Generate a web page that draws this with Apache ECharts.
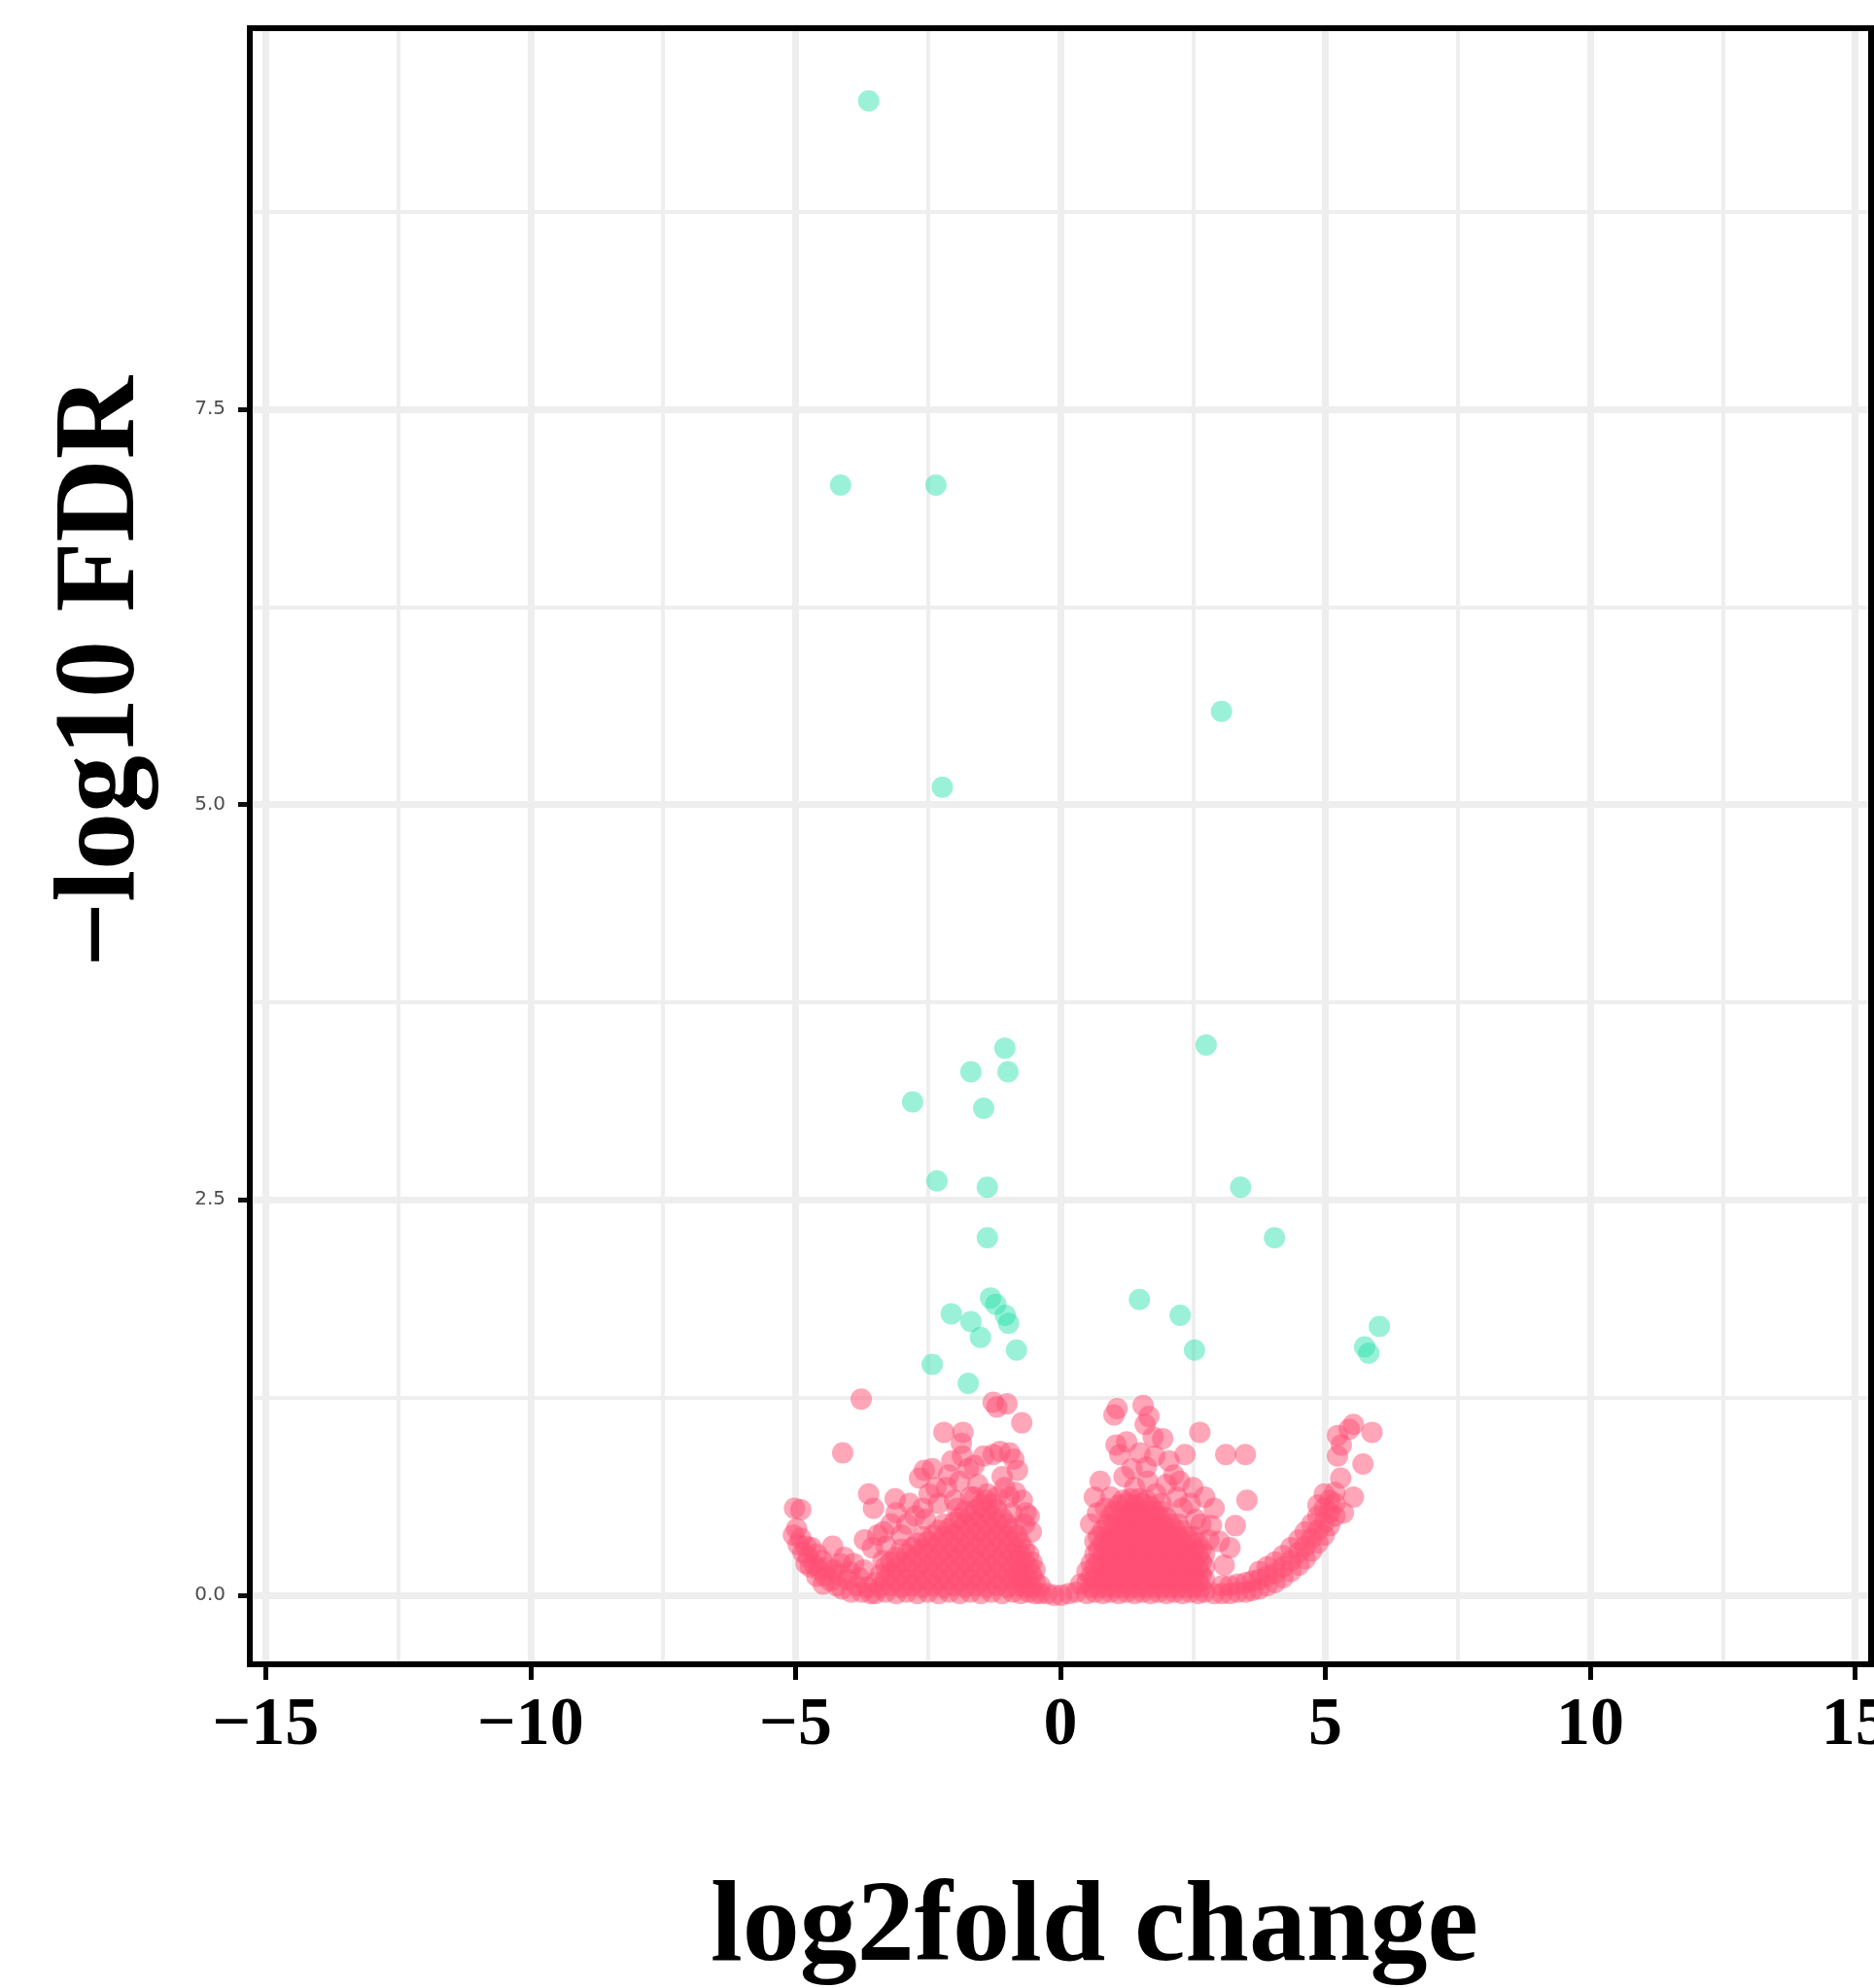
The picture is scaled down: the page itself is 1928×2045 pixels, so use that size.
<!DOCTYPE html>
<html>
<head>
<meta charset="utf-8">
<title>volcano plot</title>
<script src="https://cdn.jsdelivr.net/npm/echarts@6.0.0/dist/echarts.min.js"></script>
<style>
  html, body { margin: 0; padding: 0; background: #fff; }
  #chart { width: 1928px; height: 2045px; }
</style>
</head>
<body>
<div id="chart"></div>
<script>
// significant genes (teal), [log2fc, -log10 FDR]
var sigPoints = [
  [-3.62, 9.45], [-4.15, 7.02], [-2.35, 7.02], [3.04, 5.59], [-2.23, 5.11],
  [-1.05, 3.46], [2.75, 3.48], [-1.69, 3.31], [-0.99, 3.31], [-2.79, 3.12],
  [-1.45, 3.08], [-2.33, 2.62], [-1.38, 2.58], [3.40, 2.58], [-1.38, 2.26],
  [4.04, 2.26], [-1.32, 1.88], [-1.22, 1.84], [-1.04, 1.77], [-0.98, 1.72],
  [-2.06, 1.78], [-1.69, 1.73], [-1.51, 1.63], [-0.83, 1.55], [-2.42, 1.46],
  [-1.74, 1.34], [1.49, 1.87], [2.26, 1.77], [2.53, 1.55], [6.02, 1.70],
  [5.74, 1.57], [5.82, 1.53]
];

// not significant genes (pink), read off patch by patch
var nsLeftWing = [
  [-5.02, 0.55], [-4.90, 0.54], [-5.04, 0.38], [-4.95, 0.32], [-4.86, 0.27],
  [-4.76, 0.24], [-4.70, 0.30], [-4.64, 0.19], [-4.55, 0.16], [-4.50, 0.22],
  [-4.44, 0.12], [-4.34, 0.09], [-4.30, 0.31], [-4.28, 0.16], [-4.22, 0.06],
  [-4.12, 0.04], [-4.08, 0.24], [-4.02, 0.10], [-3.95, 0.02], [-3.90, 0.20],
  [-3.85, 0.06], [-3.75, 0.02], [-3.71, 0.16], [-3.65, 0.05], [-3.58, 0.01],
  [-4.98, 0.42], [-4.90, 0.36], [-4.80, 0.31], [-4.80, 0.20], [-4.72, 0.18],
  [-4.60, 0.26], [-4.60, 0.12], [-4.48, 0.07], [-4.40, 0.18], [-4.20, 0.13],
  [-4.15, 0.20], [-3.98, 0.15], [-3.80, 0.11],
  [-4.11, 0.90], [-3.76, 1.24], [-3.62, 0.64], [-3.53, 0.55]
];

var nsLeftCore = [
  [-3.5, 0.01], [-3.5, 0.08],
  [-3.4, 0.05], [-3.4, 0.13],
  [-3.3, 0.02], [-3.3, 0.10], [-3.3, 0.18],
  [-3.2, 0.06], [-3.2, 0.14], [-3.2, 0.21],
  [-3.1, 0.01], [-3.1, 0.09], [-3.1, 0.17], [-3.1, 0.24],
  [-3.0, 0.05], [-3.0, 0.13], [-3.0, 0.21], [-3.0, 0.29],
  [-2.9, 0.02], [-2.9, 0.10], [-2.9, 0.18], [-2.9, 0.26],
  [-2.8, 0.06], [-2.8, 0.14], [-2.8, 0.22], [-2.8, 0.30],
  [-2.7, 0.01], [-2.7, 0.09], [-2.7, 0.17], [-2.7, 0.25], [-2.7, 0.33],
  [-2.6, 0.05], [-2.6, 0.13], [-2.6, 0.21], [-2.6, 0.29], [-2.6, 0.37],
  [-2.5, 0.02], [-2.5, 0.10], [-2.5, 0.18], [-2.5, 0.26], [-2.5, 0.34],
  [-2.4, 0.06], [-2.4, 0.14], [-2.4, 0.22], [-2.4, 0.30], [-2.4, 0.38],
  [-2.3, 0.01], [-2.3, 0.09], [-2.3, 0.17], [-2.3, 0.25], [-2.3, 0.33], [-2.3, 0.41],
  [-2.2, 0.05], [-2.2, 0.13], [-2.2, 0.21], [-2.2, 0.29], [-2.2, 0.37], [-2.2, 0.45],
  [-2.1, 0.02], [-2.1, 0.10], [-2.1, 0.18], [-2.1, 0.26], [-2.1, 0.34], [-2.1, 0.42],
  [-2.0, 0.06], [-2.0, 0.14], [-2.0, 0.22], [-2.0, 0.30], [-2.0, 0.38], [-2.0, 0.46],
  [-1.9, 0.01], [-1.9, 0.09], [-1.9, 0.17], [-1.9, 0.25], [-1.9, 0.33], [-1.9, 0.41], [-1.9, 0.49],
  [-1.8, 0.05], [-1.8, 0.13], [-1.8, 0.21], [-1.8, 0.29], [-1.8, 0.37], [-1.8, 0.45], [-1.8, 0.53],
  [-1.7, 0.02], [-1.7, 0.10], [-1.7, 0.18], [-1.7, 0.26], [-1.7, 0.34], [-1.7, 0.42], [-1.7, 0.50],
  [-1.6, 0.06], [-1.6, 0.14], [-1.6, 0.22], [-1.6, 0.30], [-1.6, 0.38], [-1.6, 0.46], [-1.6, 0.54],
  [-1.5, 0.01], [-1.5, 0.09], [-1.5, 0.17], [-1.5, 0.25], [-1.5, 0.33], [-1.5, 0.41], [-1.5, 0.49], [-1.5, 0.57],
  [-1.4, 0.05], [-1.4, 0.13], [-1.4, 0.21], [-1.4, 0.29], [-1.4, 0.37], [-1.4, 0.45], [-1.4, 0.53], [-1.4, 0.60],
  [-1.3, 0.02], [-1.3, 0.10], [-1.3, 0.18], [-1.3, 0.26], [-1.3, 0.34], [-1.3, 0.42], [-1.3, 0.50], [-1.3, 0.58],
  [-1.2, 0.06], [-1.2, 0.14], [-1.2, 0.22], [-1.2, 0.30], [-1.2, 0.38], [-1.2, 0.46], [-1.2, 0.54],
  [-1.1, 0.01], [-1.1, 0.09], [-1.1, 0.17], [-1.1, 0.25], [-1.1, 0.33], [-1.1, 0.41], [-1.1, 0.49],
  [-1.0, 0.05], [-1.0, 0.13], [-1.0, 0.21], [-1.0, 0.29], [-1.0, 0.37], [-1.0, 0.45],
  [-0.9, 0.02], [-0.9, 0.10], [-0.9, 0.18], [-0.9, 0.26], [-0.9, 0.34], [-0.9, 0.42],
  [-0.82, 0.06], [-0.82, 0.14], [-0.82, 0.22], [-0.82, 0.30], [-0.82, 0.38],
  [-0.75, 0.01], [-0.75, 0.09], [-0.75, 0.17], [-0.75, 0.25], [-0.75, 0.33],
  [-0.68, 0.05], [-0.68, 0.13], [-0.68, 0.21], [-0.68, 0.29],
  [-0.6, 0.02], [-0.6, 0.10], [-0.6, 0.18], [-0.6, 0.26],
  [-0.54, 0.05], [-0.54, 0.13], [-0.54, 0.21],
  [-0.48, 0.01], [-0.48, 0.09], [-0.48, 0.16],
  [-0.38, 0.01], [-0.38, 0.06],
  [-0.25, 0.01]
];

var nsLeftUpper = [
  [-3.45, 0.38], [-3.34, 0.40], [-3.29, 0.31], [-3.12, 0.61], [-3.10, 0.52],
  [-3.00, 0.38], [-2.90, 0.45], [-2.74, 0.50], [-2.66, 0.74], [-2.60, 0.55],
  [-2.57, 0.79], [-2.48, 0.64], [-2.42, 0.80], [-2.30, 0.58], [-2.20, 1.03],
  [-2.15, 0.68], [-2.11, 0.76], [-2.00, 0.60], [-1.90, 0.72], [-1.84, 1.03],
  [-1.87, 0.96], [-1.85, 0.88], [-1.74, 0.80], [-1.63, 0.82], [-1.62, 0.62],
  [-1.56, 0.70], [-1.38, 0.64], [-1.27, 1.22], [-1.20, 1.19], [-1.27, 0.89],
  [-1.14, 0.91], [-1.05, 0.68], [-1.01, 1.21], [-0.97, 0.62], [-0.96, 0.90],
  [-0.88, 0.86], [-0.81, 0.79], [-0.73, 1.09], [-0.72, 0.60], [-0.65, 0.52],
  [-0.59, 0.50], [-0.55, 0.40], [-0.92, 0.52], [-1.20, 0.62],
  [-3.70, 0.35], [-3.55, 0.30], [-3.35, 0.22], [-3.20, 0.45], [-2.85, 0.58],
  [-2.55, 0.48], [-2.35, 0.68], [-2.05, 0.85], [-1.95, 0.55], [-1.70, 0.62],
  [-1.45, 0.88], [-1.10, 0.75], [-0.85, 0.65], [-0.68, 0.45]
];

var nsCenter = [
  [-0.12, 0.0], [0.02, 0.0], [0.16, 0.01], [0.30, 0.02], [0.38, 0.07]
];

var nsRightCore = [
  [0.5, 0.01], [0.5, 0.08], [0.5, 0.15],
  [0.58, 0.05], [0.58, 0.12], [0.58, 0.20],
  [0.65, 0.02], [0.65, 0.10], [0.65, 0.18], [0.65, 0.26], [0.65, 0.34],
  [0.72, 0.05], [0.72, 0.13], [0.72, 0.21], [0.72, 0.29], [0.72, 0.37],
  [0.8, 0.01], [0.8, 0.09], [0.8, 0.17], [0.8, 0.25], [0.8, 0.33], [0.8, 0.41],
  [0.88, 0.05], [0.88, 0.13], [0.88, 0.21], [0.88, 0.29], [0.88, 0.37], [0.88, 0.45],
  [0.95, 0.02], [0.95, 0.10], [0.95, 0.18], [0.95, 0.26], [0.95, 0.34], [0.95, 0.42], [0.95, 0.50],
  [1.02, 0.05], [1.02, 0.13], [1.02, 0.21], [1.02, 0.29], [1.02, 0.37], [1.02, 0.45], [1.02, 0.53],
  [1.1, 0.01], [1.1, 0.09], [1.1, 0.17], [1.1, 0.25], [1.1, 0.33], [1.1, 0.41], [1.1, 0.49], [1.1, 0.57],
  [1.18, 0.05], [1.18, 0.13], [1.18, 0.21], [1.18, 0.29], [1.18, 0.37], [1.18, 0.45], [1.18, 0.53], [1.18, 0.60],
  [1.25, 0.02], [1.25, 0.10], [1.25, 0.18], [1.25, 0.26], [1.25, 0.34], [1.25, 0.42], [1.25, 0.50], [1.25, 0.58],
  [1.32, 0.05], [1.32, 0.13], [1.32, 0.21], [1.32, 0.29], [1.32, 0.37], [1.32, 0.45], [1.32, 0.53], [1.32, 0.61],
  [1.4, 0.01], [1.4, 0.09], [1.4, 0.17], [1.4, 0.25], [1.4, 0.33], [1.4, 0.41], [1.4, 0.49], [1.4, 0.57],
  [1.48, 0.05], [1.48, 0.13], [1.48, 0.21], [1.48, 0.29], [1.48, 0.37], [1.48, 0.45], [1.48, 0.53], [1.48, 0.61],
  [1.55, 0.02], [1.55, 0.10], [1.55, 0.18], [1.55, 0.26], [1.55, 0.34], [1.55, 0.42], [1.55, 0.50], [1.55, 0.58],
  [1.62, 0.05], [1.62, 0.13], [1.62, 0.21], [1.62, 0.29], [1.62, 0.37], [1.62, 0.45], [1.62, 0.53], [1.62, 0.60],
  [1.7, 0.01], [1.7, 0.09], [1.7, 0.17], [1.7, 0.25], [1.7, 0.33], [1.7, 0.41], [1.7, 0.49], [1.7, 0.56],
  [1.78, 0.05], [1.78, 0.13], [1.78, 0.21], [1.78, 0.29], [1.78, 0.37], [1.78, 0.45], [1.78, 0.53],
  [1.85, 0.02], [1.85, 0.10], [1.85, 0.18], [1.85, 0.26], [1.85, 0.34], [1.85, 0.42], [1.85, 0.50],
  [1.92, 0.05], [1.92, 0.13], [1.92, 0.21], [1.92, 0.29], [1.92, 0.37], [1.92, 0.45], [1.92, 0.53],
  [2.0, 0.01], [2.0, 0.09], [2.0, 0.17], [2.0, 0.25], [2.0, 0.33], [2.0, 0.41], [2.0, 0.49],
  [2.08, 0.05], [2.08, 0.13], [2.08, 0.21], [2.08, 0.29], [2.08, 0.37], [2.08, 0.45],
  [2.15, 0.02], [2.15, 0.10], [2.15, 0.18], [2.15, 0.26], [2.15, 0.34], [2.15, 0.42],
  [2.22, 0.05], [2.22, 0.13], [2.22, 0.21], [2.22, 0.29], [2.22, 0.37], [2.22, 0.45],
  [2.3, 0.01], [2.3, 0.09], [2.3, 0.17], [2.3, 0.25], [2.3, 0.33], [2.3, 0.41],
  [2.38, 0.05], [2.38, 0.13], [2.38, 0.21], [2.38, 0.29], [2.38, 0.37],
  [2.45, 0.02], [2.45, 0.10], [2.45, 0.18], [2.45, 0.26], [2.45, 0.34],
  [2.52, 0.05], [2.52, 0.13], [2.52, 0.21], [2.52, 0.29], [2.52, 0.37],
  [2.6, 0.01], [2.6, 0.09], [2.6, 0.17], [2.6, 0.25], [2.6, 0.33],
  [2.66, 0.05], [2.66, 0.13], [2.66, 0.21], [2.66, 0.29],
  [2.72, 0.02], [2.72, 0.10], [2.72, 0.18], [2.72, 0.26],
  [2.9, 0.01], [3.05, 0.01], [3.05, 0.06], [3.2, 0.01], [3.2, 0.06]
];

var nsRightUpper = [
  [0.57, 0.45], [0.64, 0.62], [0.85, 0.55], [1.01, 1.14], [1.07, 1.18],
  [1.12, 0.89], [1.25, 0.97], [1.35, 0.80], [1.40, 0.68], [1.56, 1.20],
  [1.60, 1.08], [1.67, 1.13], [1.62, 0.81], [1.65, 0.72], [1.78, 0.88],
  [1.80, 0.64], [1.90, 0.58], [1.93, 0.99], [2.00, 0.70], [2.14, 0.76],
  [2.20, 0.62], [2.30, 0.55], [2.35, 0.89], [2.50, 0.68], [2.55, 0.48],
  [2.63, 1.03], [2.72, 0.62], [2.85, 0.44], [2.90, 0.55], [3.00, 0.34],
  [3.09, 0.19], [3.12, 0.89], [3.20, 0.30], [3.30, 0.44], [3.49, 0.89],
  [3.52, 0.60],
  [0.70, 0.52], [0.75, 0.72], [0.95, 0.62], [1.05, 0.95], [1.20, 0.75],
  [1.50, 0.90], [1.75, 1.00], [2.05, 0.85], [2.25, 0.72], [2.45, 0.58],
  [2.65, 0.45], [2.80, 0.35]
];

var nsRightWing = [
  [3.35, 0.02], [3.35, 0.07], [3.5, 0.02], [3.5, 0.08], [3.62, 0.03], [3.62, 0.09],
  [3.75, 0.04], [3.75, 0.10], [3.75, 0.15],
  [3.9, 0.06], [3.9, 0.12], [3.9, 0.18],
  [4.05, 0.08], [4.05, 0.14], [4.05, 0.21],
  [4.2, 0.11], [4.2, 0.18], [4.2, 0.25],
  [4.35, 0.15], [4.35, 0.22], [4.35, 0.30],
  [4.5, 0.19], [4.5, 0.27], [4.5, 0.35],
  [4.62, 0.23], [4.62, 0.31], [4.62, 0.40],
  [4.74, 0.28], [4.74, 0.36], [4.74, 0.45],
  [4.86, 0.33], [4.86, 0.41], [4.86, 0.50], [4.86, 0.57],
  [4.98, 0.38], [4.98, 0.46], [4.98, 0.55],
  [5.08, 0.44], [5.08, 0.52], [5.08, 0.60],
  [5.18, 0.50], [5.18, 0.58], [5.18, 0.65],
  [4.98, 0.64], [5.23, 0.88], [5.23, 1.01], [5.29, 0.74], [5.34, 0.52],
  [5.45, 1.05], [5.53, 1.08], [5.53, 0.62], [5.71, 0.83], [5.88, 1.03],
  [5.30, 0.95]
];

var nsPoints = [].concat(nsLeftWing, nsLeftCore, nsLeftUpper, nsCenter,
  nsRightCore, nsRightUpper, nsRightWing);

// axis ranges (ggplot-style padding around the data)
var X_RANGE = [-15.3, 15.3];
var Y_RANGE = [-0.437, 9.91];

// panel box in pixels
var PANEL = { left: 257, top: 29, right: 1925, bottom: 1712 };
var pxX = (PANEL.right - PANEL.left) / (X_RANGE[1] - X_RANGE[0]);
var pxY = (PANEL.bottom - PANEL.top) / (Y_RANGE[1] - Y_RANGE[0]);
function xPix(v) { return PANEL.left + (v - X_RANGE[0]) * pxX; }
function yPix(v) { return PANEL.bottom - (v - Y_RANGE[0]) * pxY; }

var GRID_COLOR = "#eeeeee";
var PINK = "#ff4d73";
var TEAL = "#22e0a8";
var SERIF = "'Liberation Serif', 'DejaVu Serif', serif";

var hiddenAxis = function(gridIndex, min, max) {
  return { type: "value", gridIndex: gridIndex, min: min, max: max, show: false };
};

var chart = echarts.init(document.getElementById("chart"), null, { renderer: "canvas" });
chart.setOption({
  animation: false,
  backgroundColor: "#fff",
  grid: [
    // 0: data panel, frame drawn on top
    {
      left: PANEL.left, top: PANEL.top,
      width: PANEL.right - PANEL.left, height: PANEL.bottom - PANEL.top,
      show: true, backgroundColor: "transparent",
      borderColor: "#000", borderWidth: 6, z: 10, outerBoundsMode: "none"
    },
    // 1: vertical grid lines + x ticks
    {
      left: xPix(-15), top: PANEL.top,
      width: xPix(15) - xPix(-15), height: PANEL.bottom - PANEL.top,
      outerBoundsMode: "none"
    },
    // 2: horizontal minor lines
    {
      left: PANEL.left, top: yPix(8.75),
      width: PANEL.right - PANEL.left, height: yPix(0) - yPix(8.75),
      outerBoundsMode: "none"
    },
    // 3: horizontal major lines + y ticks
    {
      left: PANEL.left, top: yPix(7.5),
      width: PANEL.right - PANEL.left, height: yPix(0) - yPix(7.5),
      outerBoundsMode: "none"
    }
  ],
  xAxis: [
    hiddenAxis(0, X_RANGE[0], X_RANGE[1]),
    {
      type: "value", gridIndex: 1, position: "top", min: -15, max: 15, interval: 2.5,
      axisLine: { show: false }, axisTick: { show: false }, axisLabel: { show: false },
      splitLine: { show: true, lineStyle: { color: GRID_COLOR, width: 4 } }
    },
    {
      type: "value", gridIndex: 1, position: "bottom", min: -15, max: 15, interval: 5,
      axisLine: { show: false },
      axisTick: { show: true, length: 16, lineStyle: { color: "#000", width: 5 } },
      axisLabel: {
        show: true, margin: 29, showMinLabel: true, showMaxLabel: true,
        color: "#000", fontFamily: SERIF, fontWeight: "bold", fontSize: 70,
        formatter: function(v) { return v < 0 ? "\u2212" + Math.abs(v) : String(v); }
      },
      splitLine: { show: true, lineStyle: { color: GRID_COLOR, width: 7 } }
    },
    hiddenAxis(2, 0, 1),
    hiddenAxis(3, 0, 1)
  ],
  yAxis: [
    hiddenAxis(0, Y_RANGE[0], Y_RANGE[1]),
    hiddenAxis(1, 0, 1),
    {
      type: "value", gridIndex: 2, position: "right", min: 0, max: 8.75, interval: 1.25,
      axisLine: { show: false }, axisTick: { show: false }, axisLabel: { show: false },
      splitLine: { show: true, lineStyle: { color: GRID_COLOR, width: 4 } }
    },
    {
      type: "value", gridIndex: 3, position: "left", min: 0, max: 7.5, interval: 2.5,
      axisLine: { show: false },
      axisTick: { show: true, length: 12, lineStyle: { color: "#111", width: 5 } },
      axisLabel: {
        show: true, margin: 25, showMinLabel: true, showMaxLabel: true,
        color: "#4d4d4d", fontFamily: "'DejaVu Sans', sans-serif", fontSize: 20,
        formatter: function(v) { return v.toFixed(1); }
      },
      splitLine: { show: true, lineStyle: { color: GRID_COLOR, width: 7 } }
    }
  ],
  graphic: [
    {
      type: "text", x: 1126, y: 1986,
      style: {
        text: "log2fold change", fill: "#000",
        fontFamily: SERIF, fontWeight: "bold", fontSize: 118,
        align: "center", verticalAlign: "middle"
      }
    },
    {
      type: "text", x: 107, y: 691, rotation: Math.PI / 2,
      style: {
        text: "\u2212log10 FDR", fill: "#000",
        fontFamily: SERIF, fontWeight: "bold", fontSize: 118,
        align: "center", verticalAlign: "middle"
      }
    }
  ],
  series: [
    {
      type: "scatter", xAxisIndex: 0, yAxisIndex: 0,
      data: nsPoints, symbolSize: 22, silent: true, z: 3,
      itemStyle: { color: PINK, opacity: 0.5 }
    },
    {
      type: "scatter", xAxisIndex: 0, yAxisIndex: 0,
      data: sigPoints, symbolSize: 22, silent: true, z: 4,
      itemStyle: { color: TEAL, opacity: 0.45 }
    }
  ]
});
</script>
</body>
</html>
